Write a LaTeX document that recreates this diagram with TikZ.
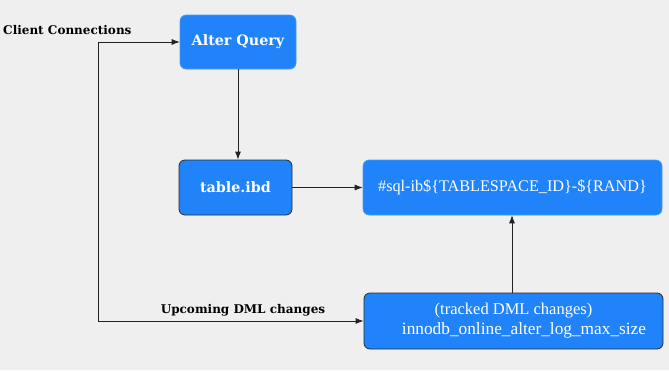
\documentclass[tikz,border=0pt]{standalone}
\usepackage{fontspec}
\setmainfont{Liberation Serif}
\newfontfamily\boldserif{DejaVu Serif}
\usetikzlibrary{arrows.meta}
\definecolor{bgc}{HTML}{EFEFEF}
\definecolor{boxblue}{HTML}{2183FA}
\definecolor{edgec}{HTML}{2A2A2A}
\definecolor{linec}{HTML}{222222}
\tikzset{
  bluebox/.style={rectangle, rounded corners=6pt, fill=boxblue, draw=boxblue!80!white, line width=0.6pt, text=white, inner sep=0pt},
  darkbox/.style={bluebox, draw=edgec, line width=0.8pt},
  conn/.style={draw=linec, line width=0.8pt, -{Latex[length=8pt,width=6pt]}},
  boldlbl/.style={font=\boldserif\bfseries\fontsize{12}{14}\selectfont, text=black, inner sep=0pt},
  bigbold/.style={font=\boldserif\bfseries\fontsize{14.3}{17}\selectfont},
  plain/.style={font=\fontsize{16.2}{19}\selectfont}
}
\begin{document}
\begin{tikzpicture}[x=1pt,y=1pt]
\fill[bgc] (0,0) rectangle (669,-370);
\useasboundingbox (0,0) rectangle (669,-370);
\node[bluebox, bigbold, minimum width=116pt, minimum height=54pt] (alter) at (238,-42) {Alter Query};
\node[darkbox, bigbold, minimum width=113pt, minimum height=55pt] (ibd) at (235.5,-187.5) {table.ibd};
\node[bluebox, plain, minimum width=299pt, minimum height=55pt] (sql) at (512.5,-187.5) {\#sql-ib\$\{TABLESPACE\_ID\}-\$\{RAND\}};
\node[darkbox, font=\fontsize{16.5}{20}\selectfont, align=center, minimum width=299pt, minimum height=56pt] (log) at (513.5,-321) {\raisebox{0pt}[0pt][0pt]{}(tracked DML changes)\\\hspace*{21pt}{\fontsize{17.3}{20}\selectfont innodb\_online\_alter\_log\_max\_size}};
\node[boldlbl, anchor=west] (client) at (3,-30) {Client Connections};
\node[boldlbl] (dml) at (243,-310) {Upcoming DML changes};
\coordinate (c1) at (98,-42);
\coordinate (c2) at (98,-321);
\draw[conn] (c2) -- (c1) -- (alter.west);
\draw[conn] (c2) -- (log.west);
\draw[conn] (alter.south -| 238,0) -- (ibd.north -| 238,0);
\draw[conn] (ibd.east) -- (sql.west);
\draw[conn] (log.north -| 512,0) -- (sql.south -| 512,0);
\end{tikzpicture}
\end{document}
